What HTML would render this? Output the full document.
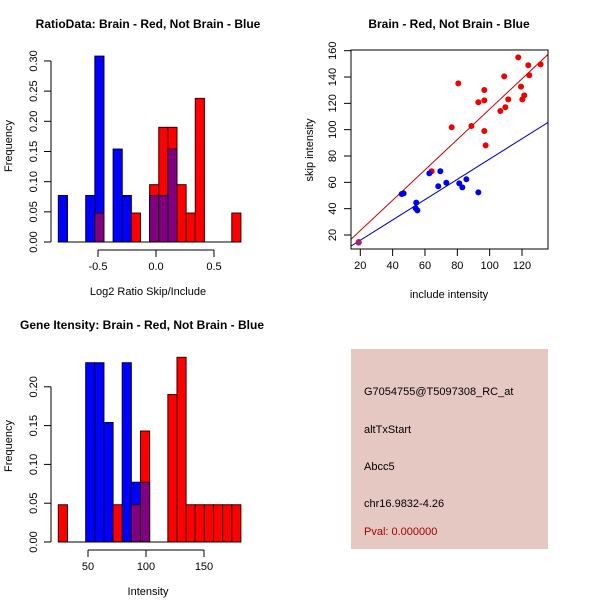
<!DOCTYPE html>
<html><head><meta charset="utf-8"><style>
body{margin:0;background:#fff}
svg{display:block;font-family:"Liberation Sans",sans-serif}
</style></head><body>
<svg id="s" width="600" height="600" viewBox="0 0 600 600">
<rect width="600" height="600" fill="#fff"/>
<rect x="351" y="349" width="197" height="200" fill="#e6c8c2"/>
<g font-size="11" fill="#000">
<text x="364" y="395">G7054755@T5097308_RC_at</text>
<text x="364" y="433">altTxStart</text>
<text x="364" y="470">Abcc5</text>
<text x="364" y="507">chr16.9832-4.26</text>
<text x="364" y="535" fill="#a00000">Pval: 0.000000</text>
</g>
</svg>
<script>
// ---- Ratio histogram data ----
const ratioBinStart = -0.842, ratioBinWidth = 0.0787;
const ratioBlue = [0.077,0,0,0.077,0.308,0,0.154,0.077,0,0,0.077,0.077,0.154,0,0,0,0,0,0,0];
const ratioRed  = [0,0,0,0,0.048,0,0,0,0.048,0,0.095,0.19,0.19,0.095,0.048,0.238,0,0,0,0.048];
const ratioXTicks = [-0.5,0,0.5];
const ratioXTickLabels = ["-0.5","0.0","0.5"];
const ratioYTicks = [0,0.05,0.1,0.15,0.2,0.25,0.3];
const ratioYTickLabels = ["0.00","0.05","0.10","0.15","0.20","0.25","0.30"];
// ---- Intensity histogram data ----
const intBinStart = 24.4, intBinWidth = 7.87;
const intBlue = [0,0,0,0.231,0.231,0.154,0,0.231,0.077,0.077,0,0,0,0,0,0,0,0,0,0];
const intRed  = [0.048,0,0,0,0,0,0.048,0,0.048,0.143,0,0,0.19,0.238,0.048,0.048,0.048,0.048,0.048,0.048];
const intXTicks = [50,100,150];
const intXTickLabels = ["50","100","150"];
const intYTicks = [0,0.05,0.1,0.15,0.2];
const intYTickLabels = ["0.00","0.05","0.10","0.15","0.20"];
// ---- Scatter data ----
const redX = [19,64.1,76.5,80.6,88.7,93,96.7,96.7,96.7,97.5,106.6,109,109.7,111.5,117.7,119.4,120.2,121.4,123.9,124.5,131.5];
const redY = [14.7,68.4,101.8,135.2,102.8,120.8,130.1,122.3,99,88.1,114.2,140.5,117,123,154.9,132.7,123,126.1,148.9,141.3,149.6];
const blueX = [19,45.6,46.8,54.6,54.2,55.3,62.7,69.5,68.2,73.2,81.2,83.1,85.6,93];
const blueY = [14.2,51.1,51.6,44.6,40.3,38.7,66.8,68.4,57,59.7,59.2,56.2,62.3,52.4];
const redFit = [0.3,1.153];
const blueFit = [0.6,0.771];
const scXTicks = [20,40,60,80,100,120];
const scYTicks = [20,40,60,80,100,120,140,160];

const NS="http://www.w3.org/2000/svg", svg=document.getElementById('s');
function mk(tag,attrs,parent){const e=document.createElementNS(NS,tag);for(const k in attrs)e.setAttribute(k,attrs[k]);(parent||svg).appendChild(e);return e;}
function txt(s,x,y,attrs,parent){const t=mk('text',Object.assign({x:x,y:y},attrs),parent);t.textContent=s;return t;}

function hist(o){
  const g=mk('g',{});
  
  
  const sx=v=>o.x0+(v-o.xRef)*o.xs, sy=v=>o.y0-v*o.ys;
  const n=o.blue.length;
  for(let i=0;i<n;i++){
    const a=o.bs+i*o.bw, x=sx(a), w=o.bw*o.xs;
    const b=o.blue[i], r=o.red[i], m=Math.min(b,r);
    if(b>0){const e=mk('rect',{x:x,y:sy(b),width:w,height:sy(0)-sy(b),fill:'#0000ff',stroke:'#000033','stroke-width':1},g);
      }
    if(r>0){const e=mk('rect',{x:x,y:sy(r),width:w,height:sy(0)-sy(r),fill:'#ff0000',stroke:'#330000','stroke-width':1},g);
      }
    if(m>0){const e=mk('rect',{x:x,y:sy(m),width:w,height:sy(0)-sy(m),fill:'#800080',stroke:'#200020','stroke-width':1},g);
      }
  }
  // baseline
  mk('line',{x1:sx(o.bs),x2:sx(o.bs+n*o.bw),y1:sy(0),y2:sy(0),stroke:'#000'},g);
  // y axis
  const ya=mk('g',{},g);
  const yt=o.yT;
  mk('line',{x1:51,x2:51,y1:sy(yt[0]),y2:sy(yt[yt.length-1]),stroke:'#000'},ya);
  yt.forEach((v,i)=>{mk('line',{x1:44,x2:51,y1:sy(v),y2:sy(v),stroke:'#000'},ya);
    const t=txt(o.yL[i],37,sy(v),{'font-size':11,'text-anchor':'middle',transform:`rotate(-90 37 ${sy(v)})`},ya);
    });
  // x axis
  const xa=mk('g',{},g);
  const xt=o.xT, ay=o.axisY;
  mk('line',{x1:sx(xt[0]),x2:sx(xt[xt.length-1]),y1:ay,y2:ay,stroke:'#000'},xa);
  xt.forEach((v,i)=>{mk('line',{x1:sx(v),x2:sx(v),y1:ay,y2:ay+7,stroke:'#000'},xa);
    const t=txt(o.xL[i],sx(v),ay+20,{'font-size':11,'text-anchor':'middle'},xa);
    });
  const xl=txt(o.xlab,148,ay+45,{'font-size':11,'text-anchor':'middle'},g);
  
  const cy=(sy(0)+o.y0-150)/2+0;
  const yl=txt('Frequency',12,o.ylabY,{'font-size':11,'text-anchor':'middle',transform:`rotate(-90 12 ${o.ylabY})`},g);
  
  const ti=txt(o.title,o.tx,o.ty,{'font-size':12,'font-weight':'bold','text-anchor':'middle'},g);
  
}
hist({name:'ratio-histogram',blue:ratioBlue,red:ratioRed,bs:ratioBinStart,bw:ratioBinWidth,
  x0:156,xRef:0,xs:116,y0:242,ys:603.5,yT:ratioYTicks,yL:ratioYTickLabels,xT:ratioXTicks,xL:ratioXTickLabels,
  axisY:250,xlab:'Log2 Ratio Skip/Include',ylabY:146,title:'RatioData: Brain - Red, Not Brain - Blue',tx:148,ty:28});
hist({name:'intensity-histogram',blue:intBlue,red:intRed,bs:intBinStart,bw:intBinWidth,
  x0:88,xRef:50,xs:1.16,y0:542,ys:776,yT:intYTicks,yL:intYTickLabels,xT:intXTicks,xL:intXTickLabels,
  axisY:550,xlab:'Intensity',ylabY:446,title:'Gene Itensity: Brain - Red, Not Brain - Blue',tx:142,ty:329});

// scatter
(function(){
  const g=mk('g',{});
  const L=351,R=548,T=50,B=249;
  const sx=v=>360.3+(v-20)*1.617, sy=v=>235-(v-20)*1.3165;
  const cp=mk('clipPath',{id:'cp'},g);mk('rect',{x:L,y:T,width:R-L,height:B-T},cp);
  const dx0=(L-360.3)/1.617+20, dx1=(R-360.3)/1.617+20;
  [[redFit,'#cc0000','red-fit-line'],[blueFit,'#0000cc','blue-fit-line']].forEach(([f,c,n])=>{
    const l=mk('line',{x1:sx(dx0),y1:sy(f[0]+f[1]*dx0),x2:sx(dx1),y2:sy(f[0]+f[1]*dx1),stroke:c,'stroke-width':1,'clip-path':'url(#cp)'},g);
    });
  redX.forEach((x,i)=>{const c=mk('circle',{cx:sx(x),cy:sy(redY[i]),r:3,fill:'#ee0000'},g);
    });
  blueX.forEach((x,i)=>{const c=mk('circle',{cx:sx(x),cy:sy(blueY[i]),r:3,fill:i==0?'#a0207a':'#0000ee'},g);
    });
  mk('rect',{x:L,y:T,width:R-L,height:B-T,fill:'none',stroke:'#000'},g);
  const xa=mk('g',{},g);
  scXTicks.forEach(v=>{mk('line',{x1:sx(v),x2:sx(v),y1:B,y2:B+7,stroke:'#000'},xa);
    const t=txt(String(v),sx(v),B+20,{'font-size':11,'text-anchor':'middle'},xa);
    });
  const ya=mk('g',{},g);
  scYTicks.forEach(v=>{mk('line',{x1:L-7,x2:L,y1:sy(v),y2:sy(v),stroke:'#000'},ya);
    const t=txt(String(v),336,sy(v),{'font-size':11,'text-anchor':'middle',transform:`rotate(-90 336 ${sy(v)})`},ya);
    });
  const xl=txt('include intensity',449,298,{'font-size':11,'text-anchor':'middle'},g);
  
  const yl=txt('skip intensity',313,150,{'font-size':11,'text-anchor':'middle',transform:'rotate(-90 313 150)'},g);
  
  const ti=txt('Brain - Red, Not Brain - Blue',449,28,{'font-size':12,'font-weight':'bold','text-anchor':'middle'},g);
  
})();
</script>
</body></html>
